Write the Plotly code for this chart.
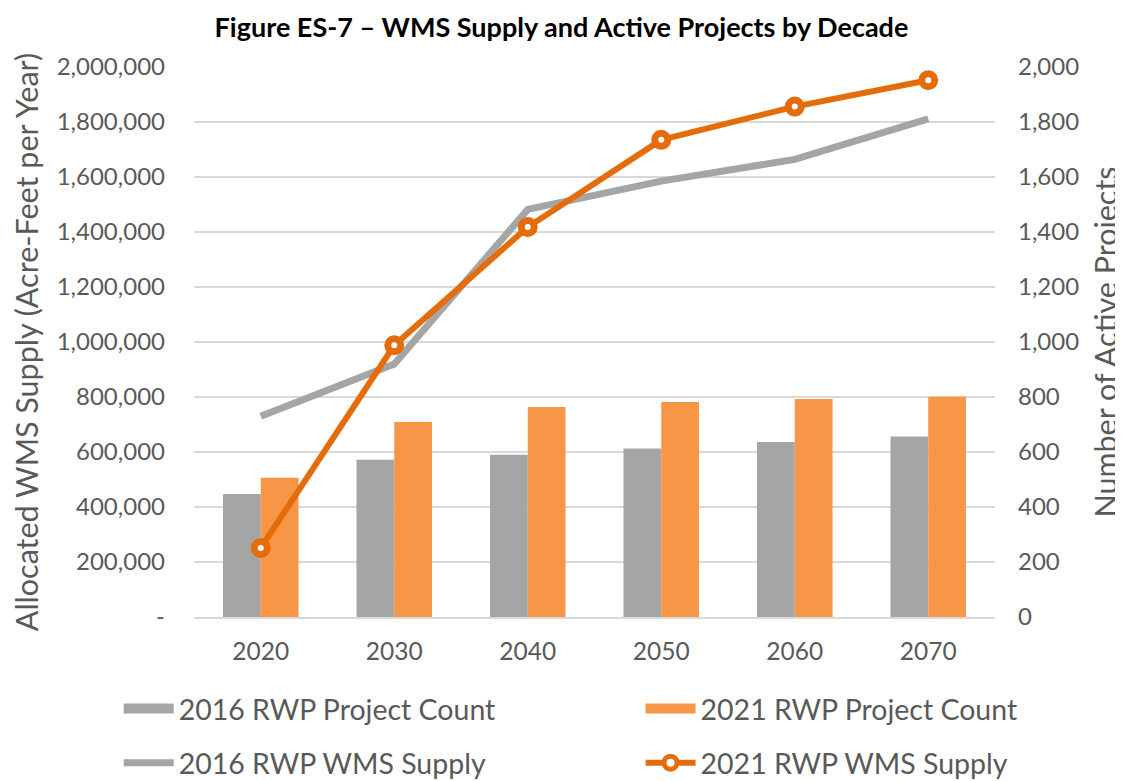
import plotly.graph_objects as go

decades = ["2020", "2030", "2040", "2050", "2060", "2070"]
count_2016 = [447, 572, 590, 613, 636, 656]
count_2021 = [506, 709, 764, 782, 793, 801]
supply_2016 = [730000, 920000, 1482000, 1585000, 1664000, 1811000]
supply_2021 = [251000, 988000, 1418000, 1735000, 1856000, 1952000]

left_ticks = [0, 200000, 400000, 600000, 800000, 1000000, 1200000, 1400000, 1600000, 1800000, 2000000]
left_ticktext = ["-", "200,000", "400,000", "600,000", "800,000", "1,000,000", "1,200,000",
                 "1,400,000", "1,600,000", "1,800,000", "2,000,000"]
right_ticks = [0, 200, 400, 600, 800, 1000, 1200, 1400, 1600, 1800, 2000]

FONT = "Lato"
TXT = "#595959"
GRAY_BAR = "#A5A5A5"
ORANGE_BAR = "#F79646"
ORANGE_LINE = "#E46C0A"

fig = go.Figure()
fig.add_trace(go.Bar(x=decades, y=count_2016, name="2016 RWP Project Count",
                     marker=dict(color=GRAY_BAR, line=dict(width=0)),
                     yaxis="y", showlegend=False))
fig.add_trace(go.Bar(x=decades, y=count_2021, name="2021 RWP Project Count",
                     marker=dict(color=ORANGE_BAR, line=dict(width=0)),
                     yaxis="y", showlegend=False))
# legend proxies giving the bars a wide rectangular legend key
fig.add_trace(go.Scatter(x=[None], y=[None], name="2016 RWP Project Count", mode="lines",
                         line=dict(color=GRAY_BAR, width=22), yaxis="y",
                         legend="legend", legendgroup="a"))
fig.add_trace(go.Scatter(x=[None], y=[None], name="2021 RWP Project Count", mode="lines",
                         line=dict(color=ORANGE_BAR, width=22), yaxis="y",
                         legend="legend2", legendgroup="b"))
fig.add_trace(go.Scatter(x=decades, y=supply_2016, name="2016 RWP WMS Supply",
                         mode="lines", line=dict(color=GRAY_BAR, width=7),
                         yaxis="y2", legend="legend", legendgroup="c"))
fig.add_trace(go.Scatter(x=decades, y=supply_2021, name="2021 RWP WMS Supply",
                         mode="lines+markers", line=dict(color=ORANGE_LINE, width=6),
                         marker=dict(symbol="circle", size=13, color="white",
                                     line=dict(color=ORANGE_LINE, width=7)),
                         yaxis="y2", legend="legend2", legendgroup="d"))

legend_common = dict(font=dict(family=FONT, size=28.5, color=TXT), orientation="v",
                     bgcolor="rgba(0,0,0,0)", tracegroupgap=14, itemwidth=50,
                     yanchor="top", xanchor="left")

# page body has an 8px margin, so the figure is sized and offset to compensate
fig.update_layout(
    width=1115, height=773,
    margin=dict(l=186, r=128, t=59, b=164, autoexpand=False),
    paper_bgcolor="white", plot_bgcolor="white",
    title=dict(text="<b>Figure ES-7 – WMS Supply and Active Projects by Decade</b>",
               x=0.4964, xanchor="center", y=0.975, yanchor="middle",
               font=dict(family=FONT, size=27, color="black")),
    barmode="group", bargap=0.434, bargroupgap=0,
    font=dict(family=FONT, color=TXT),
    xaxis=dict(type="category", showgrid=False, showline=True, linecolor="#D9D9D9", linewidth=2,
               ticks="", tickfont=dict(family=FONT, size=24.5, color=TXT), ticklabelstandoff=12),
    yaxis=dict(side="right", range=[0, 2000], tickvals=right_ticks,
               ticktext=[f"{v:,}" for v in right_ticks],
               showgrid=True, gridcolor="#D9D9D9", gridwidth=1.5, zeroline=False,
               tickfont=dict(family=FONT, size=24, color=TXT), ticklabelstandoff=22,
               title=dict(text="Number of Active Projects", standoff=26,
                          font=dict(family=FONT, size=30.5, color=TXT))),
    yaxis2=dict(side="left", overlaying="y", range=[0, 2000000], tickvals=left_ticks,
                ticktext=left_ticktext, showgrid=False, zeroline=False,
                tickfont=dict(family=FONT, size=24, color=TXT), ticklabelstandoff=28,
                title=dict(text="Allocated WMS Supply (Acre-Feet per Year)", standoff=23,
                           font=dict(family=FONT, size=30.5, color=TXT))),
    legend=dict(x=-0.094, y=-0.121, **legend_common),
    legend2=dict(x=0.5575, y=-0.121, **legend_common),
)

fig.write_html("out.html")
